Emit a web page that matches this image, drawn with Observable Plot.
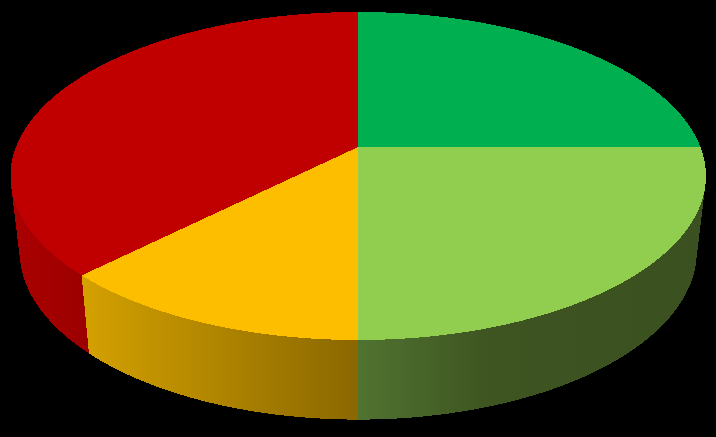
<!DOCTYPE html>
<html>
<head>
<meta charset="utf-8">
<script src="https://cdn.jsdelivr.net/npm/d3@7"></script>
<script src="https://cdn.jsdelivr.net/npm/@observablehq/plot@0.6"></script>
<style>html,body{margin:0;padding:0;background:#000;overflow:hidden}svg{display:block}</style>
</head>
<body>
<div id="chart"></div>
<script>
// Slices, clockwise from twelve o'clock
const sliceNames = ["Dark green", "Light green", "Amber", "Red"];
const sliceValues = [25, 25, 12.5, 37.5];
const sliceColors = ["#00B050", "#91CE50", "#FDBE00", "#C00000"];
// Wall shading: [fraction of the frame width, colour]
const wallStops = [
  [[0.5, "#005828"], [1, "#005828"]],
  [[0.5, "#507330"], [0.685, "#3e5421"], [1, "#3b5020"]],
  [[0.115, "#d4a100"], [0.5, "#8a6700"]],
  [[0.015, "#ab0000"], [0.125, "#9b0000"]]
];

// View of the tilted disc (data space equals the 716x437 frame)
const topFace = {cx: 358.2, cy: 176, a: 347.7, b: 164};
const baseFace = {cx: 358.2, cy: 251.6, a: 338.5, b: 168};
const tilt = -29 / 164;

function project(deg, f) {
  const r = deg * Math.PI / 180, ux = Math.sin(r), uy = -Math.cos(r);
  const d = 1 + tilt * uy;
  return [f.cx + f.a * ux * Math.sqrt(1 - tilt * tilt) / d, f.cy + f.b * (uy + tilt) / d];
}
const total = d3.sum(sliceValues);
const edges = [0, ...d3.cumsum(sliceValues).map(v => v / total * 360)];
const sweep = i => d3.range(edges[i], edges[i + 1], 0.5).concat(edges[i + 1]);
const centre = [topFace.cx, topFace.cy + topFace.b * tilt];

// Each wall is a strip of narrow quads, so the silhouette between the two rims stays filled
const wallRows = i => {
  const ts = sweep(i);
  return d3.pairs(ts).flatMap(([t0, t1], q) => [t0, t1].map(t => {
    const [x1, y1] = project(t, topFace), [x2, y2] = project(t, baseFace);
    return {x1, y1, x2, y2, q};
  }));
};
const faceRows = i => sweep(i).map(t => {
  const [x2, y2] = project(t, topFace);
  return {x1: centre[0], y1: centre[1], x2, y2};
});

const gradients = () => {
  const defs = d3.create("svg:defs");
  wallStops.forEach((stops, i) => {
    const g = defs.append("linearGradient").attr("id", `wall${i}`)
      .attr("gradientUnits", "userSpaceOnUse").attr("x1", 0).attr("x2", 716).attr("y1", 0).attr("y2", 0);
    stops.forEach(([o, c]) => g.append("stop").attr("offset", o).attr("stop-color", c));
  });
  const s = d3.create("svg:g");
  s.append(() => defs.node());
  return s.node();
};

const area = (data, fill, z) => Plot.area(data, {x1: "x1", y1: "y1", x2: "x2", y2: "y2", fill, z, shapeRendering: "crispEdges"});
const order = [0, 3, 2, 1];

const chart = Plot.plot({
  width: 716,
  height: 437,
  margin: 0,
  style: {background: "#000"},
  x: {domain: [0, 716], range: [0, 716], axis: null},
  y: {domain: [0, 437], range: [0, 437], axis: null},
  marks: [
    gradients,
    ...order.map(i => area(wallRows(i), `url(#wall${i})`, "q")),
    ...sliceValues.map((_, i) => area(faceRows(i), sliceColors[i]))
  ]
});
document.getElementById("chart").append(chart);
</script>
</body>
</html>
